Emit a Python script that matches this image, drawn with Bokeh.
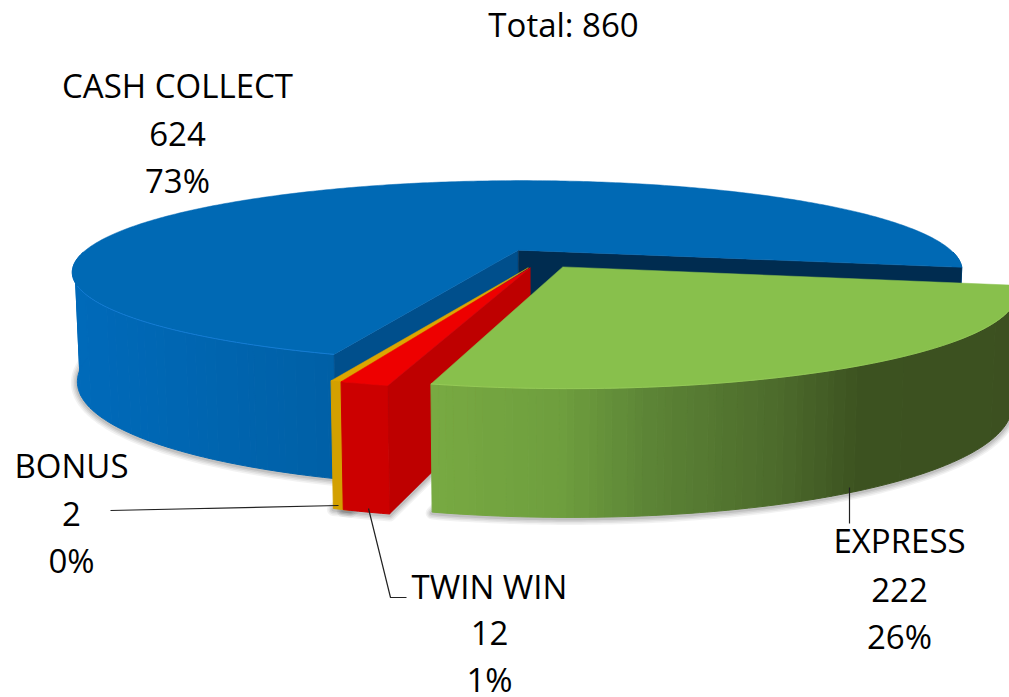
import math
from bokeh.plotting import figure
from bokeh.embed import file_html
from bokeh.resources import INLINE
from bokeh.core.properties import value

# ---- data ----
CATEGORIES = ["CASH COLLECT", "EXPRESS", "TWIN WIN", "BONUS"]
VALUES = [624, 222, 12, 2]
PERCENTS = ["73%", "26%", "1%", "0%"]
TITLE = "Total: 860"

# ---- styling / layout ----
FONT = "Open Sans"
FS = "33px"
START = 11.0          # first slice after CASH COLLECT starts here, clockwise from east
EXPLODE = 0.09
CX, CY = 541.0, 259.5
A, B, K = 432.0, 89.0, 0.2375
H = 106.0
# per-slice fine tuning of the projection: x shift, y shift, x scale, start-angle overlap
TUNE = {"CASH COLLECT": (-4.0, -3.0, 1.02, 1.0), "BONUS": (0.0, 0.0, 1.0, 1.0)}
TOP = {"CASH COLLECT": "#0069B4", "EXPRESS": "#88C04C", "TWIN WIN": "#EE0000", "BONUS": "#DDA600"}
WALL_STOPS = {
    "CASH COLLECT": [(70, (0, 106, 186)), (330, (0, 96, 166)), (1000, (0, 96, 166))],
    "EXPRESS": [(430, (120, 170, 66)), (560, (110, 158, 62)), (650, (92, 132, 54)),
                (780, (76, 106, 43)), (860, (60, 82, 32)), (1040, (60, 80, 32))],
    "TWIN WIN": [(0, (204, 0, 0)), (1000, (204, 0, 0))],
    "BONUS": [(0, (211, 160, 0)), (1000, (211, 160, 0))],
}
INNER = {"start": {"CASH COLLECT": "#004F8C", "TWIN WIN": "#BE0000"},
         "end": {"CASH COLLECT": "#002C50"}}
LABEL_POS = {
    "CASH COLLECT": (177, [85, 133, 180]),
    "EXPRESS": (899, [540, 589, 636]),
    "TWIN WIN": (489, [586, 632, 679]),
    "BONUS": (71, [465, 513, 560]),
}


def proj(X, Y, z=0.0, name=None):
    dx, dy, xs, _ = TUNE.get(name, (0.0, 0.0, 1.0, 0.0))
    s = 1.0 / (1.0 - K * Y)
    return (CX + dx + A * xs * X * s * (1 - 0.011 * z),
            CY + dy + B * Y * s + z * H * (1 + 0.2 * Y))


def lerp_color(stops, x):
    for (x0, c0), (x1, c1) in zip(stops, stops[1:]):
        if x <= x1:
            t = max(0.0, (x - x0) / (x1 - x0))
            return "#%02x%02x%02x" % tuple(round(a + (b - a) * t) for a, b in zip(c0, c1))
    return "#%02x%02x%02x" % stops[-1][1]


# slice angles: clockwise from east, in drawing order EXPRESS, TWIN WIN, BONUS, CASH COLLECT
total = sum(VALUES)
angles = {}
cur = START
for name in ["EXPRESS", "TWIN WIN", "BONUS", "CASH COLLECT"]:
    sweep = VALUES[CATEGORIES.index(name)] / total * 360
    angles[name] = (cur, cur + sweep)
    cur += sweep


def slice_geom(name):
    a0, a1 = angles[name]
    mid = math.radians((a0 + a1) / 2)
    a0 = a0 - TUNE.get(name, (0, 0, 0, 0))[3]
    ox, oy = EXPLODE * math.cos(mid), EXPLODE * math.sin(mid)
    n = max(2, int((a1 - a0) / 0.75))
    ths = [math.radians(a0 + (a1 - a0) * i / n) for i in range(n + 1)]
    rim = [(ox + math.cos(t), oy + math.sin(t)) for t in ths]
    return (ox, oy), rim


p = figure(width=1009, height=697, x_range=(0, 1009), y_range=(697, 0),
           x_axis_type=None, y_axis_type=None, toolbar_location=None,
           output_backend="svg", min_border=0, outline_line_color=None,
           background_fill_color="white", border_fill_color="white")
p.grid.visible = False

# soft shadows beneath the slices
for name in ["CASH COLLECT", "EXPRESS", "TWIN WIN", "BONUS"]:
    (ox, oy), rim = slice_geom(name)
    pts = [proj(ox, oy, 1, name)] + [proj(X, Y, 1, name) for X, Y in rim] + [proj(ox, oy, 1, name)]
    xs = [q[0] for q in pts]
    ys = [q[1] + 1 for q in pts]
    for w, alpha in [(13, 0.05), (10, 0.06), (7, 0.07), (4, 0.09)]:
        p.line(xs, ys, line_color="black", line_alpha=alpha, line_width=w, line_join="round")


def draw_slice(name):
    (ox, oy), rim = slice_geom(name)
    ap_t, ap_b = proj(ox, oy, 0, name), proj(ox, oy, 1, name)
    # outer wall as shaded strips: each run of one colour is a contiguous band
    bands = []
    for (X0, Y0), (X1, Y1) in zip(rim, rim[1:]):
        if Y0 < -0.05 and Y1 < -0.05:
            bands.append(None)
            continue
        a = proj(X0, Y0, 0, name)
        b = proj(X1, Y1, 0, name)
        col = lerp_color(WALL_STOPS[name], round((a[0] + b[0]) / 2 / 10) * 10)
        if bands and bands[-1] and bands[-1][0] == col:
            bands[-1][1].append((X1, Y1))
        else:
            bands.append((col, [(X0, Y0), (X1, Y1)]))
    xs, ys, cols = [], [], []
    for band in bands:
        if not band:
            continue
        col, pts = band
        top = [proj(X, Y, 0, name) for X, Y in pts]
        bot = [proj(X, Y, 1, name) for X, Y in reversed(pts)]
        xs.append([q[0] for q in top + bot])
        ys.append([q[1] for q in top + bot])
        cols.append(col)
    p.patches(xs, ys, fill_color=cols, line_color=cols, line_width=1.0)
    # inner faces
    for key, end_pt in (("start", rim[0]), ("end", rim[-1])):
        col = INNER[key].get(name)
        if col:
            q_t, q_b = proj(*end_pt, 0, name), proj(*end_pt, 1, name)
            p.patch([ap_t[0], q_t[0], q_b[0], ap_b[0]], [ap_t[1], q_t[1], q_b[1], ap_b[1]],
                    fill_color=col, line_color=col, line_width=0.5)
    # top face
    pts = [proj(ox, oy, 0, name)] + [proj(X, Y, 0, name) for X, Y in rim]
    p.patch([q[0] for q in pts], [q[1] for q in pts], fill_color=TOP[name],
            line_color=TOP[name], line_width=0.5)


for nm in ["CASH COLLECT", "BONUS", "TWIN WIN", "EXPRESS"]:
    draw_slice(nm)

# light rim on the near edge of the blue and green slices
for nm, col in (("CASH COLLECT", "#1A82DC"), ("EXPRESS", "#98CE5A")):
    _, rim = slice_geom(nm)
    front = [proj(X, Y, 0, nm) for X, Y in rim if Y > 0.3]
    p.line([q[0] for q in front], [q[1] for q in front], line_color=col, line_width=1, line_alpha=0.8)

# leader lines
LEADERS = {
    "BONUS": ([110, 338], [510, 505]),
    "TWIN WIN": ([406, 390, 368], [597, 597, 508]),
    "EXPRESS": ([849, 849], [487, 523]),
}
for nm, (lx, ly) in LEADERS.items():
    p.line(lx, ly, line_color="#222222", line_width=1.2)

# labels
tx, ty, tt = [563], [24], [TITLE]
for i, nm in enumerate(CATEGORIES):
    x, yy = LABEL_POS[nm]
    for y, s in zip(yy, [nm, str(VALUES[i]), PERCENTS[i]]):
        tx.append(x); ty.append(y); tt.append(s)
p.text(tx, ty, text=tt, text_align="center", text_baseline="middle",
       text_font=value(FONT), text_font_size=value(FS), text_color="#000000")

open("out.html", "w").write(file_html(p, INLINE))
